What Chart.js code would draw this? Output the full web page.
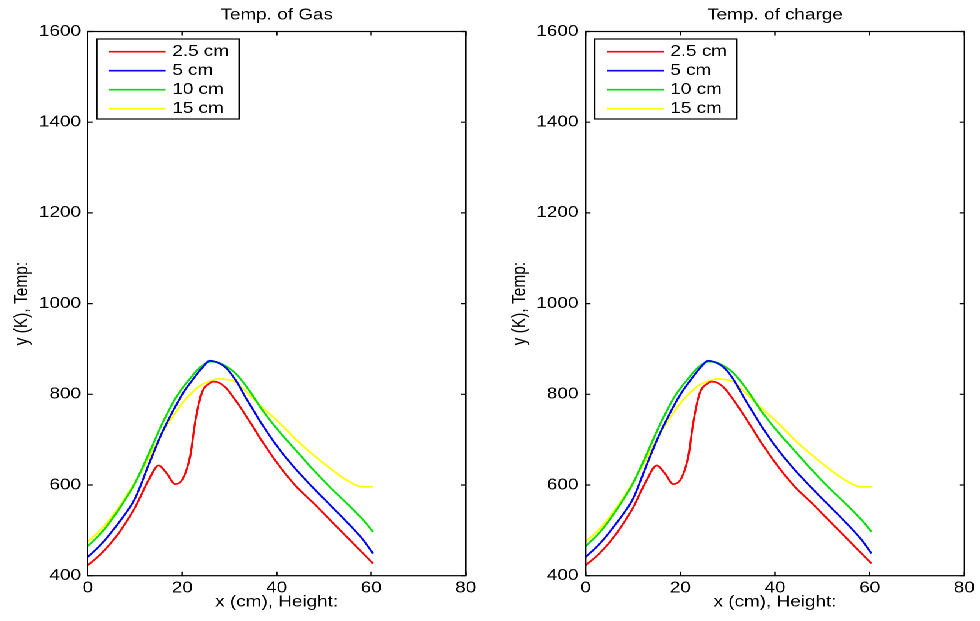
<!DOCTYPE html>
<html><head><meta charset="utf-8">
<script src="https://cdn.jsdelivr.net/npm/chart.js@4.4.0/dist/chart.umd.min.js"></script>
<style>
html,body{margin:0;padding:0;background:#fff;overflow:hidden;}
#wrap{position:absolute;left:0;top:0;width:803px;height:621px;transform:scaleX(1.22);transform-origin:0 0;}
#c1{position:absolute;left:0;top:0;}
#c2{position:absolute;left:400px;top:0;}
</style></head><body>
<div id="wrap"><canvas id="c1" width="400" height="621"></canvas><canvas id="c2" width="403" height="621"></canvas></div>
<script>
// ---- data ----
const xHeight = [0, 3, 6.5, 10, 12.8, 15, 16.7, 18.5, 20.2, 21.7, 22.7, 24.1, 25.9, 26.6, 27.7, 29.1, 31.2, 33.6, 37.2, 40.7, 44.2, 47.8, 51.3, 54.8, 58.3, 60.4];
const temp25 = [423, 450, 493, 550, 609, 643, 626, 602, 615, 664, 736, 802, 825, 828, 826, 816, 788, 751, 692, 640, 596, 560, 523, 486, 449, 427];
const temp5  = [441, 471, 516, 570, 642, 698, 736, 772, 803, 825, 839, 857, 874, 873, 869, 860, 833, 790, 729, 677, 633, 593, 556, 519, 479, 449];
const temp10 = [465, 496, 545, 604, 666, 718, 755, 790, 816, 835, 848, 862, 872, 872, 870, 863, 847, 817, 762, 716, 675, 633, 595, 560, 523, 497];
const temp15 = [475, 504, 550, 606, 658, 700, 731, 759, 783, 800, 810, 821, 829, 831, 834, 833, 828, 805, 769, 736, 699, 666, 637, 611, 596, 596];
const seriesLabels = ['2.5 cm', '5 cm', '10 cm', '15 cm'];
const seriesColors = ['#ff0000', '#0000ff', '#00e000', '#ffff00'];
const xTicks = [0, 20, 40, 60, 80];
const yTicks = [400, 600, 800, 1000, 1200, 1400, 1600];
const titles = ['Temp. of Gas', 'Temp. of charge'];
const xTitle = 'x (cm), Height:';
const yTitle = 'y (K), Temp:';

const FONT = '"Liberation Sans", Arial, Helvetica, sans-serif';
const FS = 15.5;
const TXT = '#000';

function series(arr) { return xHeight.map((x, i) => ({x: x, y: arr[i]})); }
const allSeries = [temp25, temp5, temp10, temp15];

const boxPlugin = {
  id: 'boxPlugin',
  afterDatasetsDraw(chart, args, opts) {
    const ctx = chart.ctx, a = chart.chartArea;
    const xs = chart.scales.x, ys = chart.scales.y;
    ctx.save();
    ctx.strokeStyle = '#000';
    ctx.lineWidth = 1.2;
    ctx.strokeRect(a.left, a.top, a.right - a.left, a.bottom - a.top);
    ctx.beginPath();
    xTicks.forEach(v => {
      const p = xs.getPixelForValue(v);
      ctx.moveTo(p, a.bottom); ctx.lineTo(p, a.bottom - 4);
      ctx.moveTo(p, a.top); ctx.lineTo(p, a.top + 4);
    });
    yTicks.forEach(v => {
      const p = ys.getPixelForValue(v);
      ctx.moveTo(a.left, p); ctx.lineTo(a.left + 4, p);
      ctx.moveTo(a.right, p); ctx.lineTo(a.right - 4, p);
    });
    ctx.stroke();
    ctx.restore();
  },
  afterDraw(chart, args, opts) {
    const ctx = chart.ctx, a = chart.chartArea;
    ctx.save();
    // title
    ctx.fillStyle = TXT;
    ctx.font = FS + 'px ' + FONT;
    ctx.textAlign = 'center';
    ctx.textBaseline = 'alphabetic';
    ctx.fillText(opts.title, (a.left + a.right) / 2, 19.3);
    // legend
    const bx = a.left + 7.4, by = 39, bw = 116.6, bh = 80;
    ctx.fillStyle = '#fff';
    ctx.fillRect(bx, by, bw, bh);
    ctx.strokeStyle = '#000';
    ctx.lineWidth = 1.2;
    ctx.strokeRect(bx, by, bw, bh);
    chart.data.datasets.forEach((ds, i) => {
      const y = by + 12.7 + i * 19;
      ctx.strokeStyle = ds.borderColor;
      ctx.lineWidth = 1.6;
      ctx.beginPath();
      ctx.moveTo(bx + 10, y); ctx.lineTo(bx + 56.5, y);
      ctx.stroke();
      ctx.fillStyle = TXT;
      ctx.textAlign = 'left';
      ctx.textBaseline = 'middle';
      ctx.fillText(ds.label, bx + 61.9, y);
    });
    ctx.restore();
  }
};

function makeChart(id, opt) {
  return new Chart(document.getElementById(id), {
    type: 'line',
    data: {
      datasets: allSeries.map((arr, i) => ({
        label: seriesLabels[i],
        data: series(arr),
        borderColor: seriesColors[i],
        backgroundColor: seriesColors[i],
        borderWidth: 1.7,
        pointRadius: 0,
        fill: false,
        cubicInterpolationMode: 'monotone'
      }))
    },
    options: {
      responsive: false,
      animation: false,
      devicePixelRatio: 2,
      layout: {padding: {left: 0, right: opt.padRight, top: 31.5, bottom: 0}},
      plugins: {
        legend: {display: false},
        title: {display: false},
        tooltip: {enabled: false},
        boxPlugin: {title: opt.title}
      },
      scales: {
        x: {
          type: 'linear', min: 0, max: 80,
          afterBuildTicks: s => { s.ticks = xTicks.map(v => ({value: v})); },
          ticks: {padding: 3.3, maxRotation: 0, autoSkip: false, color: TXT,
                  font: {family: FONT, size: FS}, callback: v => String(v)},
          grid: {display: false, drawTicks: false},
          border: {display: false},
          title: {display: true, text: xTitle, color: TXT, font: {family: FONT, size: FS},
                  padding: {top: 0, bottom: 9.7}},
          afterFit: s => { s.height = 45.3; }
        },
        y: {
          type: 'linear', min: 400, max: 1600,
          afterBuildTicks: s => { s.ticks = yTicks.map(v => ({value: v})); },
          ticks: {padding: opt.yPad, autoSkip: false, color: TXT,
                  font: {family: FONT, size: FS}, callback: v => String(v)},
          grid: {display: false, drawTicks: false},
          border: {display: false},
          title: {display: true, text: yTitle, color: TXT, font: {family: FONT, size: FS},
                  padding: {top: opt.yTitlePad, bottom: 0}},
          afterFit: s => { s.width = opt.yWidth; }
        }
      }
    },
    plugins: [boxPlugin]
  });
}

makeChart('c1', {title: titles[0], padRight: 18.3, yWidth: 71.9, yPad: 5.5, yTitlePad: 9.1});
makeChart('c2', {title: titles[1], padRight: 12.6, yWidth: 80.1, yPad: 6, yTitlePad: 16.9});
</script>
</body></html>
